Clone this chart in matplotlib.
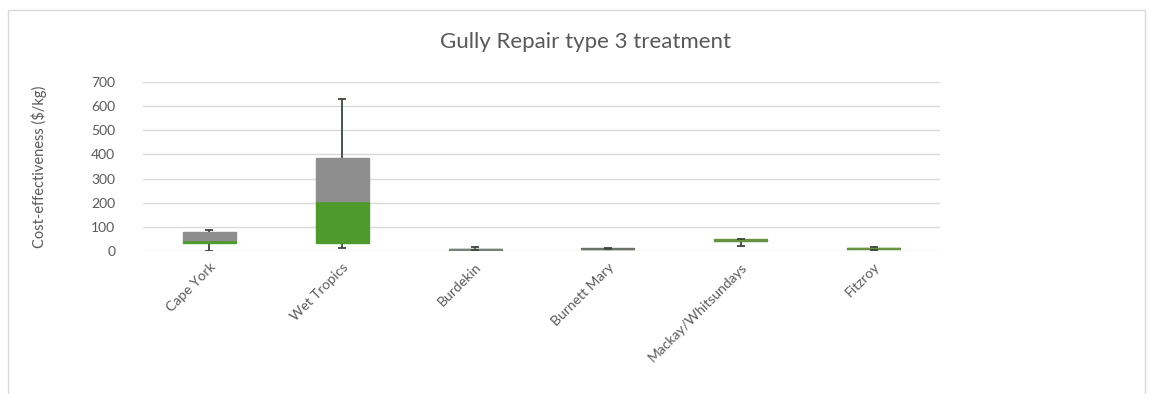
import matplotlib
matplotlib.use("Agg")
import matplotlib.pyplot as plt
from matplotlib.patches import Rectangle

# box plot stats (Excel-style stacked box)
regions = ["Cape York", "Wet Tropics", "Burdekin", "Burnett Mary",
           "Mackay/Whitsundays", "Fitzroy"]
whisker_low = [1, 11, 4, 8, 22, 6]
q1 = [32, 32, 5, 9, 40, 8]
median = [47, 208, 7, 10, 44, 11]
q3 = [77, 386, 10, 12, 48, 14]
whisker_high = [87, 630, 18, 14, 51, 17]

lower_colors = ["#4f9a2c", "#4f9a2c", "#6e7f6e", "#5f7060", "#5f8f3a", "#5f8f3a"]
upper_colors = ["#8e8e8e", "#8e8e8e", "#7a857a", "#6a746a", "#6a9444", "#6a9444"]

plt.rcParams["font.family"] = ["Lato", "DejaVu Sans"]
text_color = "#595959"

fig = plt.figure(figsize=(11.49, 3.94), dpi=100)
ax = fig.add_axes([143 / 1149, 1 - 251 / 394, (940 - 143) / 1149, (251 - 82) / 394])

x = list(range(len(regions)))
width = 0.4
ax.bar(x, [m - a for m, a in zip(median, q1)], bottom=q1, width=width,
       color=lower_colors, edgecolor=lower_colors, lw=1, zorder=3)
ax.bar(x, [b - m for b, m in zip(q3, median)], bottom=median, width=width,
       color=upper_colors, edgecolor=upper_colors, lw=1, zorder=3)

wcol = "#3b473b"
ax.vlines(x, whisker_low, q1, color=wcol, lw=1.3, zorder=2)
ax.vlines(x, q3, whisker_high, color=wcol, lw=1.3, zorder=2)
cap = 0.03
ax.hlines(whisker_low, [i - cap for i in x], [i + cap for i in x], color=wcol, lw=1.3, zorder=4)
ax.hlines(whisker_high, [i - cap for i in x], [i + cap for i in x], color=wcol, lw=1.3, zorder=4)

ax.set_xlim(-0.5, len(regions) - 0.5)
ax.set_ylim(0, 700)
ax.set_yticks(range(0, 701, 100))
ax.grid(axis="y", color="#d9d9d9", lw=1, zorder=0)
ax.set_axisbelow(True)
for s in ax.spines.values():
    s.set_visible(False)
ax.tick_params(axis="both", length=0, colors=text_color, labelsize=10)
ax.tick_params(axis="y", pad=20)
ax.set_xticks(x)
ax.set_xticklabels(regions, rotation=45, ha="right", rotation_mode="anchor")
ax.tick_params(axis="x", pad=7)

ax.set_ylabel("Cost-effectiveness ($/kg)", color=text_color, fontsize=10.5, labelpad=32)

fig.text(585 / 1149, 1 - 42 / 394, "Gully Repair type 3 treatment", ha="center",
         va="center", fontsize=16, color=text_color)

# outer chart border
fig.patches.append(Rectangle((8 / 1149, -0.05), (1145 - 8) / 1149, 1.05 - 10 / 394,
                             transform=fig.transFigure, fill=False,
                             edgecolor="#d9d9d9", lw=1))

fig.savefig("out.png", dpi=100)
